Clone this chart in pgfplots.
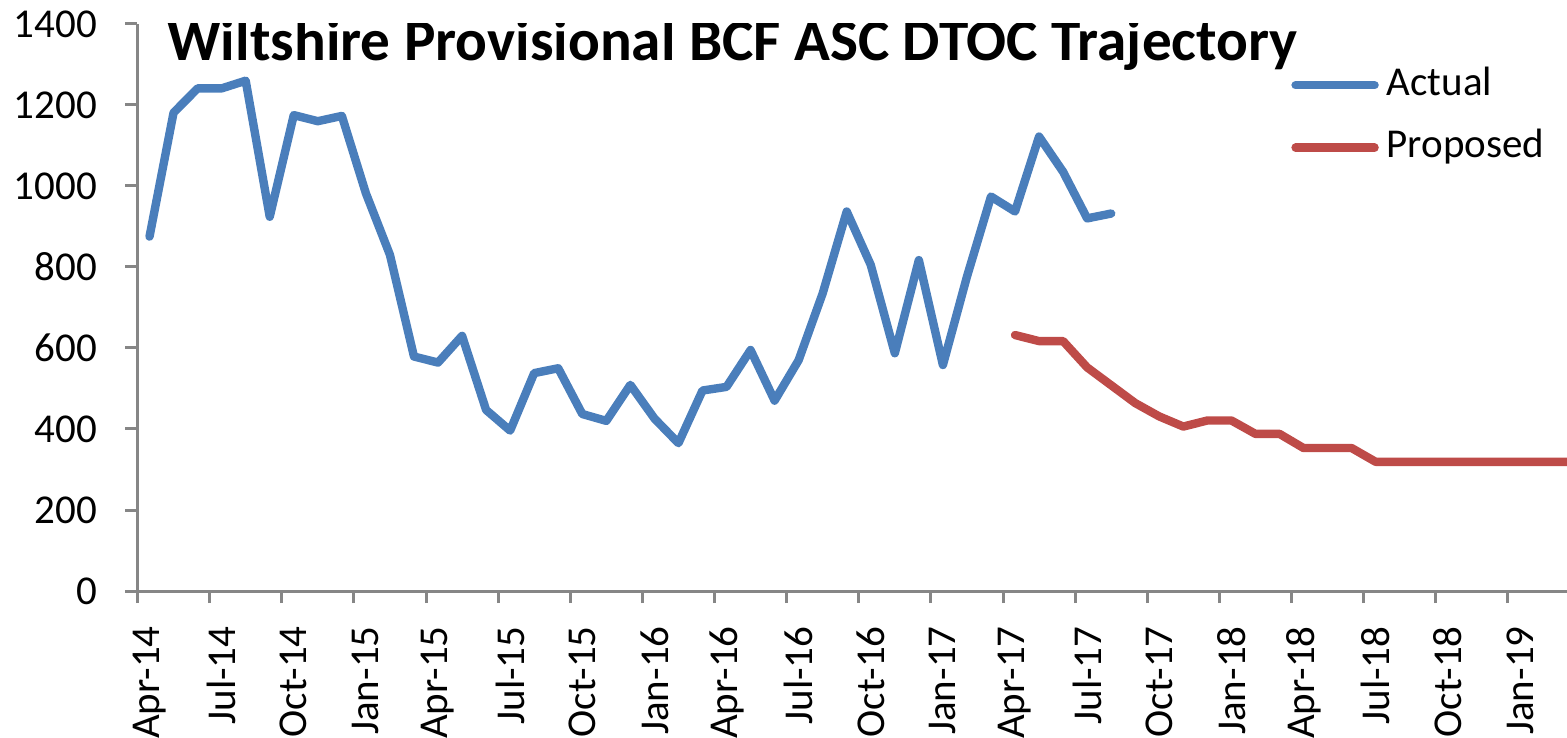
\documentclass[border=0pt]{standalone}
\usepackage{fontspec}
\setmainfont{Carlito}
\usepackage{pgfplots}
\pgfplotsset{compat=1.18}
\definecolor{actblue}{HTML}{4A7EBB}
\definecolor{propred}{HTML}{BE4B48}
\definecolor{axgray}{HTML}{868686}
\begin{document}
\begin{tikzpicture}
\begin{axis}[
  at={(0,0)}, anchor=south west,
  scale only axis, width=714.75pt, height=283.5pt,
  xmin=-0.5, xmax=58.96, ymin=0, ymax=1400,
  axis x line*=bottom, axis y line*=left,
  axis line style={axgray, line width=1.5pt},
  every tick/.style={axgray, line width=1.5pt},
  tick align=outside,
  ytick={0,200,...,1400},
  minor ytick={0,200,...,1400},
  major tick length=0pt,
  minor tick length=6pt,
  xtick={0,3,...,57},
  xticklabels={Apr-14,Jul-14,Oct-14,Jan-15,Apr-15,Jul-15,Oct-15,Jan-16,Apr-16,Jul-16,Oct-16,Jan-17,Apr-17,Jul-17,Oct-17,Jan-18,Apr-18,Jul-18,Oct-18,Jan-19},
  minor xtick={-0.5,2.5,...,56.5},
  /pgf/number format/assume math mode=true,
  /pgf/number format/1000 sep={},
  scaled ticks=false,
  tick label style={font=\fontsize{20.5}{24}\selectfont, black},
  xticklabel style={yshift=-17.5pt, rotate=90, anchor=east, inner sep=0pt},
  yticklabel style={anchor=east, inner sep=0pt, xshift=-20pt},
  legend style={at={(0.8069,0.9244)}, anchor=north west, draw=none, fill=none,
    inner sep=0pt, font=\fontsize{20.5}{24}\selectfont,
    nodes={inner sep=0pt, text height=14pt, text depth=4pt},
    row sep=13.2pt,
    /tikz/every odd column/.append style={column sep=4pt}},
  legend cell align=left,
  legend image code/.code={\draw[#1] (2pt,0pt) -- (41.5pt,0pt);},
]
\addplot[actblue, line width=4.2pt, line cap=round, line join=round] coordinates {
(0,875) (1,1181) (2,1241) (3,1241) (4,1260) (5,924) (6,1175) (7,1160) (8,1173)
(9,982) (10,830) (11,579) (12,564) (13,630) (14,447) (15,396) (16,538) (17,550)
(18,437) (19,420) (20,509) (21,426) (22,365) (23,495) (24,504) (25,595) (26,470)
(27,570) (28,735) (29,937) (30,805) (31,587) (32,817) (33,558) (34,776) (35,974)
(36,937) (37,1122) (38,1035) (39,920) (40,932)
};
\addlegendentry{Actual}
\addplot[propred, line width=4.2pt, line cap=round, line join=round] coordinates {
(36,632) (37,617) (38,617) (39,552) (40,508) (41,464) (42,431) (43,406) (44,421)
(45,421) (46,388) (47,388) (48,353) (49,353) (50,353) (51,319) (52,319) (53,319)
(54,319) (55,319) (56,319) (57,319) (58,319) (59,319)
};
\addlegendentry{Proposed}
\node[font=\bfseries\fontsize{29.6}{35}\selectfont, anchor=base, inner sep=0pt]
  at (rel axis cs:0.4162,0.9365) {Wiltshire Provisional BCF ASC DTOC Trajectory};
\end{axis}
\pgfresetboundingbox
\path[use as bounding box] (-68.75pt,-73.5pt) rectangle (714.75pt,295.5pt);
\end{tikzpicture}
\end{document}
